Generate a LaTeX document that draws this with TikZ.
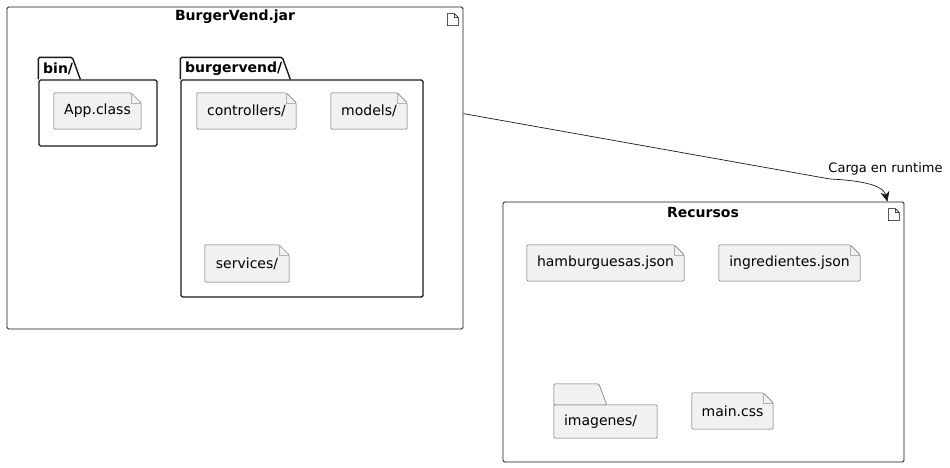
\documentclass[tikz,border=0pt]{standalone}
\usepackage{fontspec}
\setmainfont{DejaVu Sans}
\usetikzlibrary{arrows.meta,backgrounds}

\definecolor{boxfill}{HTML}{F1F1F1}
\definecolor{edge}{HTML}{181818}

\tikzset{
  artifact/.style={draw=edge,line width=0.8pt,rounded corners=1.5pt,inner sep=0pt},
  pkg/.style={draw=edge,line width=1.4pt,rounded corners=1.5pt,inner sep=0pt},
  file/.style={inner sep=0pt,minimum height=36pt,font=\fontsize{14}{16}\selectfont},
  filebox/.style={fill=boxfill,draw=black!60,line width=0.5pt,rounded corners=1.2pt},
  foldline/.style={draw=black!30,line width=0.5pt},
  title/.style={font=\fontsize{14}{16}\selectfont\bfseries,inner sep=0pt},
  conn/.style={draw=edge,line width=0.7pt,-{Stealth[length=10pt,width=9pt,inset=3pt]}}
}

\begin{document}
\begin{tikzpicture}[x=1pt,y=-1pt]
\useasboundingbox (0,0) rectangle (950,467);

% outer artifacts
\node[artifact,minimum width=456pt,minimum height=322pt] (jar) at (235,168) {};
\node[title] (jar-title) at (235,17) {BurgerVend.jar};
\node[artifact,minimum width=401pt,minimum height=260pt] (res) at (703.5,332) {};
\node[title] (res-title) at (703,212) {Recursos};

\foreach \b in {jar,res}
  \draw[line width=0.6pt,line join=round] ([xshift=-16pt,yshift=-7pt]\b.north east) -- ++(7,0) -- ++(4,4) -- ++(0,8) -- ++(-11,0) -- cycle
    ([xshift=-9pt,yshift=-7pt]\b.north east) -- ++(0,4) -- ++(4,0);

% packages
\node[pkg,minimum width=118pt,minimum height=66pt] (bin) at (98,113) {};
\draw[pkg] (bin.north west) -- ++(0,-22) -- ++(34,0) -- ++(8,22);
\node[title,anchor=west] (bin-title) at (43,69) {bin/};

\node[pkg,minimum width=242pt,minimum height=217pt] (bv) at (302,188.5) {};
\draw[pkg] (bv.north west) -- ++(0,-22) -- ++(102,0) -- ++(8,22);
\node[title,anchor=west] (bv-title) at (185,69) {burgervend/};

% files
\node[file,minimum width=87pt] (app) at (97.5,111) {App.class};
\node[file,minimum width=99pt] (ctrl) at (246.5,111) {controllers/};
\node[file,minimum width=76pt] (models) at (369,111) {models/};
\node[file,minimum width=84pt,minimum height=37pt] (services) at (247,263.5) {services/};
\node[file,minimum width=157pt] (hamb) at (605.5,263) {hamburguesas.json};
\node[file,minimum width=141pt] (ingr) at (789.5,263) {ingredientes.json};
\node[file,minimum width=81pt] (css) at (732.5,411) {main.css};

\begin{pgfonlayer}{background}
\foreach \n in {app,ctrl,models,services,hamb,ingr,css} {
  \draw[filebox] (\n.south west) -- (\n.north west) -- ([xshift=-10pt]\n.north east)
    -- ([yshift=-10pt]\n.north east) -- (\n.south east) -- cycle;
  \draw[foldline] ([xshift=-10pt]\n.north east) |- ([yshift=-10pt]\n.north east);
}
\end{pgfonlayer}

% folder
\node[inner sep=0pt,minimum width=103pt,minimum height=33pt] (img) at (605.5,421.5) {};
\begin{pgfonlayer}{background}
\draw[filebox] (img.north west) rectangle (img.south east);
\draw[filebox] (img.north west) -- ++(0,-21) -- ++(45,0) -- ++(8,21) -- cycle;
\end{pgfonlayer}
\node[file,anchor=west,minimum height=0pt] (img-t) at ([xshift=10pt]img.west) {imagenes/};

% connector
\coordinate (bend) at (830,179);
\draw[conn] ([yshift=-107pt]jar.north east) -- (bend)
  .. controls (872,181) and (884,188) .. ([xshift=-17pt]res.north east);
\node[font=\fontsize{13}{15}\selectfont,inner sep=0pt] (conn-lbl) at (885.5,169) {Carga en runtime};

\end{tikzpicture}
\end{document}
